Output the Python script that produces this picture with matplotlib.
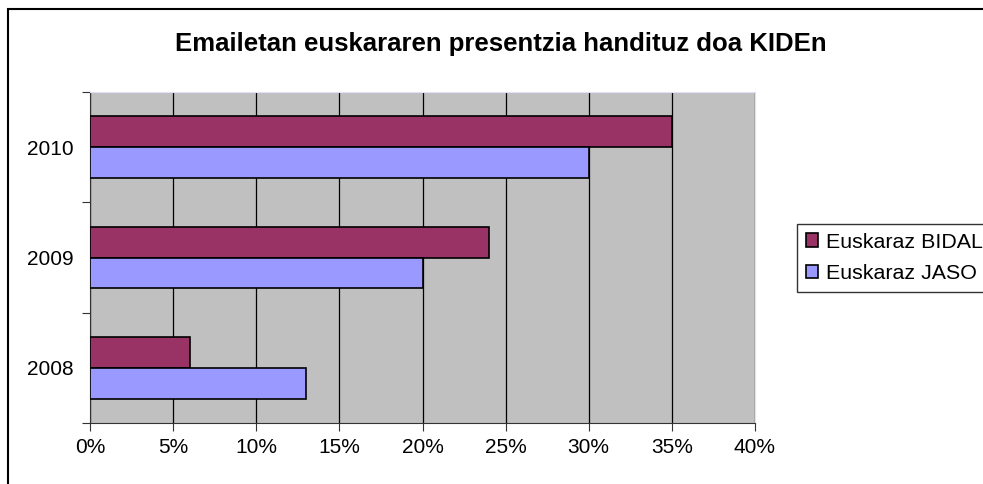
import numpy as np
import matplotlib
matplotlib.use("Agg")
import matplotlib.pyplot as plt
from matplotlib.patches import Rectangle
from matplotlib.ticker import FuncFormatter

plt.rcParams['font.family'] = ['Liberation Sans', 'DejaVu Sans']

years = ["2008", "2009", "2010"]
bidali = [6, 24, 35]   # Euskaraz BIDALI (%)
jaso = [13, 20, 30]    # Euskaraz JASO (%)
series_names = ["Euskaraz BIDALI", "Euskaraz JASO"]
title = "Emailetan euskararen presentzia handituz doa KIDEn"

W, H = 983, 484
fig = plt.figure(figsize=(W / 100, H / 100), dpi=100)

# chart border (runs off the right and bottom edges)
fig.patches.append(Rectangle((8 / W, -0.1), 1.2, 1 - 9 / H + 0.1,
                             transform=fig.transFigure, fill=False,
                             edgecolor='black', linewidth=1.5))

ax = fig.add_axes([90 / W, (H - 423) / H, (755 - 90) / W, (423 - 92) / H])
ax.set_facecolor('#C0C0C0')

y = np.arange(len(years))
h = 0.28
b1 = ax.barh(y + h / 2, bidali, height=h, color='#993366', edgecolor='black',
             linewidth=1.2, label=series_names[0], zorder=3)
b2 = ax.barh(y - h / 2, jaso, height=h, color='#9999FF', edgecolor='black',
             linewidth=1.2, label=series_names[1], zorder=3)

ax.set_xlim(0, 40)
ax.set_ylim(-0.5, 2.5)
ax.set_xticks(np.arange(0, 41, 5))
ax.xaxis.set_major_formatter(FuncFormatter(lambda v, p: f"{v:.0f}%"))
ax.grid(axis='x', color='black', linewidth=0.9, zorder=1)
ax.set_axisbelow(True)

ax.set_yticks([-0.5, 0.5, 1.5, 2.5])
ax.set_yticklabels([])
ax.set_yticks(y, minor=True)
ax.set_yticklabels(years, minor=True)
ax.tick_params(axis='y', which='major', length=6, direction='out', color='#333333')
ax.tick_params(axis='y', which='minor', length=0, pad=12, labelsize=15)
ax.tick_params(axis='x', length=6, direction='out', color='#333333', labelsize=15, pad=5)

for s in ['top', 'right']:
    ax.spines[s].set_color('#E0E0F8')
for s in ['left', 'bottom']:
    ax.spines[s].set_color('#333333')

fig.text(501 / W, 1 - 44 / H, title, ha='center', va='center',
         fontsize=18.5, fontweight='bold')

leg = fig.legend(handles=[b1, b2], loc='upper left',
                 bbox_to_anchor=(797 / W, 1 - 224 / H), frameon=True,
                 fancybox=False, edgecolor='black', fontsize=15.4,
                 handlelength=0.56, handleheight=0.56, handletextpad=0.4,
                 borderpad=0.4, labelspacing=0.6, borderaxespad=0)
leg.get_frame().set_linewidth(1.0)

fig.savefig("out.png", dpi=100)
